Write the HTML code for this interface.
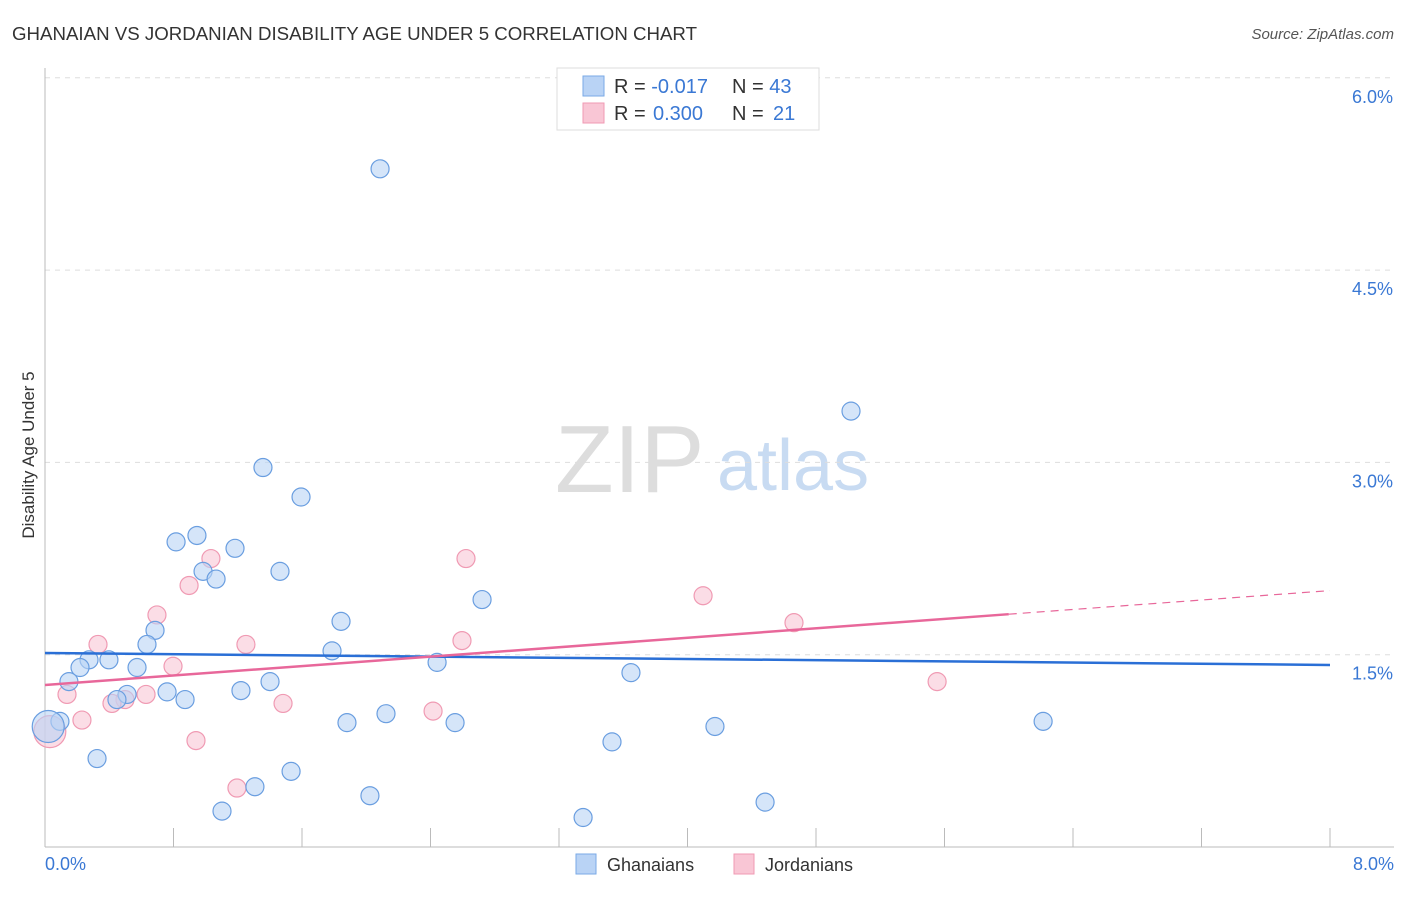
<!DOCTYPE html>
<html><head><meta charset="utf-8"><style>
body{margin:0;background:#fff;font-family:"Liberation Sans",sans-serif;}
svg text{font-family:"Liberation Sans",sans-serif;}
</style></head><body>
<svg id="c" width="1406" height="892" xmlns="http://www.w3.org/2000/svg">
<text x="12" y="40" font-size="18" fill="#333" textLength="685" lengthAdjust="spacingAndGlyphs">GHANAIAN VS JORDANIAN DISABILITY AGE UNDER 5 CORRELATION CHART</text>
<text x="1394" y="39" font-size="15" fill="#555" font-style="italic" text-anchor="end">Source: ZipAtlas.com</text>
<text transform="translate(34,455) rotate(-90)" font-size="17" fill="#333" text-anchor="middle">Disability Age Under 5</text>
<text x="555" y="492" font-size="96" fill="#ddd" font-family="Liberation Serif">ZIP</text>
<text x="717" y="490" font-size="72" fill="#c8dbf2">atlas</text>
<g id="grid"></g><g id="axes"></g><g id="pts"></g><g id="lines"></g>
<g>
<rect x="557" y="68" width="262" height="62" fill="#fff" stroke="#ddd"/>
<rect x="583" y="76" width="21" height="20" fill="#b9d3f5" stroke="#7aa9e6"/>
<rect x="583" y="103" width="21" height="20" fill="#f9c6d5" stroke="#f09ab3"/>
<text x="614" y="93" font-size="20" fill="#333">R = <tspan fill="#3a78d4">-0.017</tspan><tspan x="732">N = </tspan><tspan fill="#3a78d4">43</tspan></text>
<text x="614" y="120" font-size="20" fill="#333">R = <tspan fill="#3a78d4" x="653">0.300</tspan><tspan x="732">N = </tspan><tspan fill="#3a78d4" x="773">21</tspan></text>
</g>
<g>
<rect x="576" y="854" width="20" height="20" fill="#b9d3f5" stroke="#7aa9e6"/>
<text x="607" y="871" font-size="18" fill="#333">Ghanaians</text>
<rect x="734" y="854" width="20" height="20" fill="#f9c6d5" stroke="#f09ab3"/>
<text x="765" y="871" font-size="18" fill="#333">Jordanians</text>
</g>
</svg>
<script>
const yTicks=[1.5,3.0,4.5,6.0];
const xTickLabels=["0.0%","8.0%"];
const ghX=[2.086,5.018,1.357,1.594,0.946,0.816,1.183,0.984,1.065,1.463,2.721,0.685,1.843,0.635,1.787,0.398,0.274,2.441,0.218,0.573,0.149,1.401,3.648,0.760,1.220,0.511,0.872,0.448,2.123,1.880,2.553,4.171,6.214,0.093,3.530,0.324,1.532,1.307,2.023,4.483,1.102,3.350,0.02];
const ghY=[5.29,3.40,2.96,2.73,2.43,2.38,2.33,2.15,2.09,2.15,1.93,1.69,1.76,1.58,1.53,1.46,1.46,1.44,1.40,1.40,1.29,1.29,1.36,1.21,1.22,1.19,1.15,1.15,1.04,0.97,0.97,0.94,0.98,0.98,0.82,0.69,0.59,0.47,0.40,0.35,0.28,0.23,0.94];
const joX=[2.621,1.033,0.897,4.097,0.697,4.663,0.330,1.251,2.596,0.797,0.137,0.629,0.498,0.417,1.482,5.554,2.416,0.230,0.940,1.195,0.03];
const joY=[2.25,2.25,2.04,1.96,1.81,1.75,1.58,1.58,1.61,1.41,1.19,1.19,1.15,1.12,1.12,1.29,1.06,0.99,0.83,0.46,0.90];
const ghTrend=[1.513,1.42];
const joTrend=[1.264,2.0];
const joSolidEnd=6.0;
const X=v=>45+v/8*1285, Y=v=>847-v/1.5*192.3;
const NS="http://www.w3.org/2000/svg";
function mk(t,a,p){const e=document.createElementNS(NS,t);for(const k in a)e.setAttribute(k,a[k]);document.getElementById(p).appendChild(e);return e;}
yTicks.forEach(t=>{
 const g=mk('line',{x1:45,x2:1394,y1:Y(t),y2:Y(t),stroke:'#ddd','stroke-dasharray':'5,5'},'grid');
 
 
 const l=mk('text',{x:1393,y:Y(t)+25,'font-size':18,fill:'#3a78d4','text-anchor':'end'},'grid');
 l.textContent=t.toFixed(1)+'%';
 
 
});
const ax=mk('line',{x1:45,x2:45,y1:68,y2:847,stroke:'#bbb'},'axes');


const bx=mk('line',{x1:45,x2:1394,y1:847,y2:847,stroke:'#bbb'},'axes');


for(let i=1;i<=10;i++){const t=mk('line',{x1:X(i*0.8),x2:X(i*0.8),y1:828,y2:847,stroke:'#bbb'},'axes');
 
 }
[[0,'start',45],[1,'end',1394]].forEach(([i,a,x])=>{const l=mk('text',{x:x,y:870,'font-size':18,fill:'#3a78d4','text-anchor':a},'axes');l.textContent=xTickLabels[i];
 
 });
function pts(xs,ys,f,s,name){xs.forEach((x,i)=>{const big=x<0.05;const c=mk('circle',{cx:X(x),cy:Y(ys[i]),r:big?16:9,fill:f,'fill-opacity':0.6,stroke:s,'stroke-width':1.2},'pts');
 
 });}
pts(joX,joY,'#f9c6d5','#f09ab3','jordanian-point');
pts(ghX,ghY,'#b9d3f5','#6a9ee0','ghanaian-point');
const b=mk('line',{x1:X(0),x2:X(8),y1:Y(ghTrend[0]),y2:Y(ghTrend[1]),stroke:'#2a6fd6','stroke-width':2.5},'lines');


const jy=v=>joTrend[0]+(joTrend[1]-joTrend[0])*v/8;
const p=mk('line',{x1:X(0),x2:X(joSolidEnd),y1:Y(jy(0)),y2:Y(jy(joSolidEnd)),stroke:'#e8679a','stroke-width':2.5},'lines');


const pd=mk('line',{x1:X(joSolidEnd),x2:X(8),y1:Y(jy(joSolidEnd)),y2:Y(jy(8)),stroke:'#e8679a','stroke-width':1.2,'stroke-dasharray':'8,6'},'lines');


</script>
</body></html>
